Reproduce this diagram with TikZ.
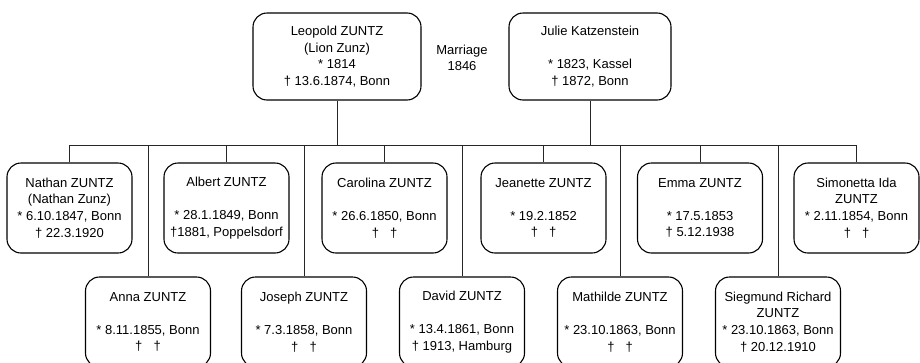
\documentclass[tikz,border=0pt]{standalone}
\usepackage{fontspec}
\setmainfont{Liberation Sans}
\newcommand{\twodag}{†\hspace{0.85em}†}
\begin{document}
\begin{tikzpicture}[x=1pt,y=-1pt,
  person/.style={draw, line width=1.1pt, rounded corners=14pt, minimum width=125pt,
    minimum height=90pt, align=center, inner sep=0pt,
    font=\fontsize{13}{16.6}\selectfont},
  parent/.style={person, minimum height=87pt},
  link/.style={line width=0.7pt, draw=black!85},
  plain/.style={align=center, inner sep=0pt, font=\fontsize{13}{16.6}\selectfont}]
\useasboundingbox (0,0) rectangle (920,362);
\clip (0,0) rectangle (920,362);

% parents
\node[parent, minimum width=168pt] (leo) at (337,56.5)
  {Leopold ZUNTZ\\(Lion Zunz)\\* 1814\\† 13.6.1874, Bonn};
\node[parent, minimum width=162pt] (jul) at (590,56.5)
  {Julie Katzenstein\\[16.6pt]* 1823, Kassel\\† 1872, Bonn};
\node[plain] (mar) at (462,58) {Marriage\\1846};

% top row children
\node[person] (nat) at (69.5,208) {Nathan ZUNTZ\\(Nathan Zunz)\\* 6.10.1847, Bonn\\† 22.3.1920};
\node[person] (alb) at (226.5,208) {Albert ZUNTZ\\[16.6pt]* 28.1.1849, Bonn\\†1881, Poppelsdorf};
\node[person] (car) at (384.5,208) {Carolina ZUNTZ\\[16.6pt]* 26.6.1850, Bonn\\\twodag};
\node[person] (jea) at (543.5,208) {Jeanette ZUNTZ\\[16.6pt]* 19.2.1852\\\twodag};
\node[person] (emm) at (700,208) {Emma ZUNTZ\\[16.6pt]* 17.5.1853\\† 5.12.1938};
\node[person] (sim) at (856.5,208) {Simonetta Ida\\ZUNTZ\\* 2.11.1854, Bonn\\\twodag};

% bottom row children
\node[person] (ann) at (148,322) {Anna ZUNTZ\\[16.6pt]* 8.11.1855, Bonn\\\twodag};
\node[person] (jos) at (304,322) {Joseph ZUNTZ\\[16.6pt]* 7.3.1858, Bonn\\\twodag};
\node[person] (dav) at (462,322) {David ZUNTZ\\[16.6pt]* 13.4.1861, Bonn\\† 1913, Hamburg};
\node[person] (mat) at (620,322) {Mathilde ZUNTZ\\[16.6pt]* 23.10.1863, Bonn\\\twodag};
\node[person] (sie) at (778,322) {Siegmund Richard\\ZUNTZ\\* 23.10.1863, Bonn\\† 20.12.1910};

% sibling bar
\coordinate (barL) at (69.5,145);
\coordinate (barR) at (856.5,145);
\draw[link] (barL) -- (barR);

% parents to bar
\draw[link] (leo.south) -- (leo.south |- barL);
\draw[link] (jul.south) -- (jul.south |- barL);

% bar to children
\foreach \c in {nat,alb,car,jea,emm,sim,ann,jos,dav,mat,sie}
  \draw[link] (\c.north |- barL) -- (\c.north);
\end{tikzpicture}
\end{document}
